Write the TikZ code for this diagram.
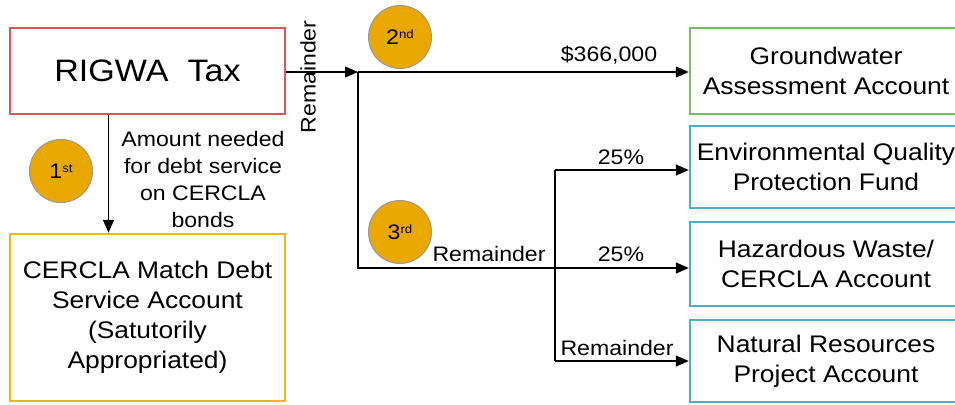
\documentclass[tikz,border=0pt]{standalone}
\usepackage{fontspec}
\setmainfont[FakeStretch=1.1]{Liberation Sans}
\usetikzlibrary{arrows.meta}
\definecolor{taxred}{HTML}{D9575B}
\definecolor{debtorange}{HTML}{F3B323}
\definecolor{gwgreen}{HTML}{72BF5B}
\definecolor{fundblue}{HTML}{4FAFC8}
\definecolor{rankgold}{HTML}{E9A800}
\newcommand{\ordinal}[2]{#1\raisebox{6pt}{\fontsize{12}{12}\selectfont #2}}
\tikzset{
  acct/.style={draw, line width=2.5pt, fill=white, align=center, inner sep=0pt,
    font=\fontsize{24}{30}\selectfont},
  flow/.style={line width=1.5pt, -{Triangle[length=13pt,width=11pt]}},
  tag/.style={font=\fontsize{21}{27}\selectfont, inner sep=1pt},
  rank/.style={circle, draw=gray!80, line width=1pt, fill=rankgold,
    minimum size=63pt, inner sep=0pt, font=\fontsize{21}{21}\selectfont},
}
\begin{document}
\begin{tikzpicture}[x=1pt,y=-1pt]
\useasboundingbox (0,0) rectangle (955,404);
\clip (0,0) rectangle (955,404);
% accounts
\node[acct, draw=taxred, minimum width=275pt, minimum height=86pt,
  font=\fontsize{31}{34}\selectfont] (tax) at (147.5,71) {RIGWA\ \ Tax};
\node[acct, draw=debtorange, minimum width=275pt, minimum height=167pt] (cercla) at (147.5,317.5)
  {CERCLA Match Debt\\Service Account\\(Satutorily\\Appropriated)};
\node[acct, draw=gwgreen, minimum width=272pt, minimum height=86pt] (gw) at (826,71)
  {Groundwater\\Assessment Account};
\node[acct, draw=fundblue, minimum width=272pt, minimum height=82pt] (env) at (826,167)
  {Environmental Quality\\Protection Fund};
\node[acct, draw=fundblue, minimum width=272pt, minimum height=84pt] (haz) at (826,264)
  {Hazardous Waste/\\CERCLA Account};
\node[acct, draw=fundblue, minimum width=272pt, minimum height=82pt] (nat) at (826,361)
  {Natural Resources\\Project Account};
% junctions
\coordinate (j1) at (358,72);
\coordinate (j2) at (358,268);
\coordinate (up) at (555,170);
\coordinate (down) at (555,361);
% connectors
\draw[flow] ([xshift=-39pt]tax.south) -- ([xshift=-39pt]cercla.north);
\draw[flow] (tax.east |- j1) -- (j1);
\draw[flow] (j1) -- (j1 -| gw.west);
\draw[flow] (j1) -- (j2) -- (j2 -| haz.west);
\draw[line width=1.5pt] (up) -- (down);
\draw[flow] (up) -- (up -| env.west);
\draw[flow] (down) -- (down -| nat.west);
% labels
\node[tag, align=center] (need) at (203,179)
  {Amount needed\\for debt service\\on CERCLA\\bonds};
\node[tag, rotate=90] (rem1) at (308,77) {Remainder};
\node[tag] (amt) at (609,55) {\$366,000};
\node[tag] (pct1) at (621,157) {25\%};
\node[tag] (rem2) at (489,254) {Remainder};
\node[tag] (pct2) at (621,254) {25\%};
\node[tag] (rem3) at (617,348) {Remainder};
% order of payment
\node[rank] (first) at (61,171) {\ordinal{1}{st}};
\node[rank] (second) at (400,37) {\ordinal{2}{nd}};
\node[rank] (third) at (400,232) {\ordinal{3}{rd}};
\end{tikzpicture}
\end{document}
